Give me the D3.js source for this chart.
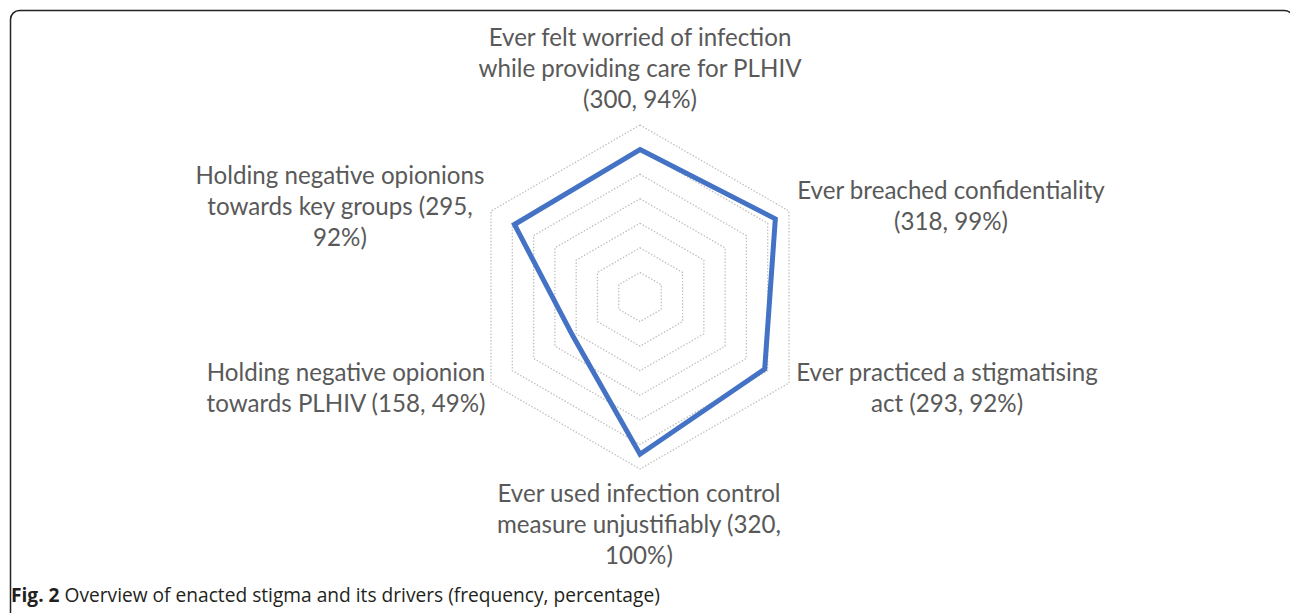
<!DOCTYPE html>
<html>
<head>
<meta charset="utf-8">
<script src="https://cdn.jsdelivr.net/npm/d3@7"></script>
<style>
  html, body { margin: 0; padding: 0; background: #ffffff; }
  svg { display: block; }
</style>
</head>
<body>
<svg id="chart" width="1290" height="613"></svg>
<script>
// ---------- data ----------
const categories = [
  "Ever felt worried of infection while providing care for PLHIV",
  "Ever breached confidentiality",
  "Ever practiced a stigmatising act",
  "Ever used infection control measure unjustifiably",
  "Holding negative opionion towards PLHIV",
  "Holding negative opionions towards key groups"
];
const frequencies = [300, 318, 293, 320, 158, 295];
const percentages = [94, 99, 92, 100, 49, 92];
const labelLines = [
  ["Ever felt worried of infection", "while providing care for PLHIV", "(300, 94%)"],
  ["Ever breached confidentiality", "(318, 99%)"],
  ["Ever practiced a stigmatising", "act (293, 92%)"],
  ["Ever used infection control", "measure unjustifiably (320,", "100%)"],
  ["Holding negative opionion", "towards PLHIV (158, 49%)"],
  ["Holding negative opionions", "towards key groups (295,", "92%)"]
];
const gridTicks = [50, 100, 150, 200, 250, 300, 350];
const captionBold = "Fig. 2";
const captionText = " Overview of enacted stigma and its drivers (frequency, percentage)";

// ---------- layout ----------
const W = 1290, H = 613;
const cx = 640, cy = 297, R = 172;
const labelFont = "Lato, 'Open Sans', sans-serif";
const textColor = "#595959";
// label block centres (x) and first baselines (y)
const labelPos = [
  {x: 640, y: 46},
  {x: 951, y: 199},
  {x: 947, y: 381},
  {x: 639, y: 502},
  {x: 346, y: 381},
  {x: 340, y: 184}
];
const lineH = 31;

const svg = d3.select("#chart");

// frame
svg.append("rect")
  .attr("x", 10.5).attr("y", 10.5)
  .attr("width", 1283).attr("height", 640)
  .attr("rx", 9).attr("ry", 9)
  .attr("fill", "none").attr("stroke", "#222").attr("stroke-width", 1.5);

const r = d3.scaleLinear().domain([0, 350]).range([0, R]);
const angle = d3.scalePoint().domain(d3.range(categories.length)).range([0, 2 * Math.PI * (categories.length - 1) / categories.length]);

const radial = d3.lineRadial()
  .angle((d) => angle(d.i))
  .radius((d) => r(d.v))
  .curve(d3.curveLinearClosed);

const g = svg.append("g").attr("transform", `translate(${cx},${cy})`);

// grid rings
g.selectAll("path.grid")
  .data(gridTicks)
  .join("path")
  .attr("class", "grid")
  .attr("d", (t) => radial(categories.map((c, i) => ({i, v: t}))))
  .attr("fill", "none")
  .attr("stroke", "#bdbdbd")
  .attr("stroke-width", 1.3)
  .attr("stroke-dasharray", "1.4 1.8");

// data polygon
g.append("path")
  .datum(frequencies.map((v, i) => ({i, v})))
  .attr("d", radial)
  .attr("fill", "none")
  .attr("stroke", "#4472C4")
  .attr("stroke-width", 5)
  .attr("stroke-linejoin", "miter");

// labels
const labels = svg.append("g")
  .attr("font-family", labelFont)
  .attr("fill", textColor)
  .attr("text-anchor", "middle");

labelLines.forEach((lines, k) => {
  const t = labels.append("text").attr("class", "lbl");
  lines.forEach((ln, j) => {
    t.append("tspan")
      .attr("x", labelPos[k].x)
      .attr("y", labelPos[k].y + j * lineH)
      .text(ln);
  });
});

// fit font size so the widest top line is ~303px like the reference
labels.attr("font-size", 22);
const probe = labels.select("text.lbl tspan").node();
const w0 = probe.getComputedTextLength();
labels.attr("font-size", 22 * 303 / w0);

// caption
const cap = svg.append("text")
  .attr("x", 11).attr("y", 602)
  .attr("font-family", "'Open Sans', 'Noto Sans', sans-serif")
  .attr("fill", "#231f20")
  .attr("font-size", 18);
cap.append("tspan").attr("font-weight", "bold").text(captionBold);
cap.append("tspan").text(captionText);
const cw = cap.node().getComputedTextLength();
cap.attr("font-size", 18 * 649 / cw);
</script>
</body>
</html>
